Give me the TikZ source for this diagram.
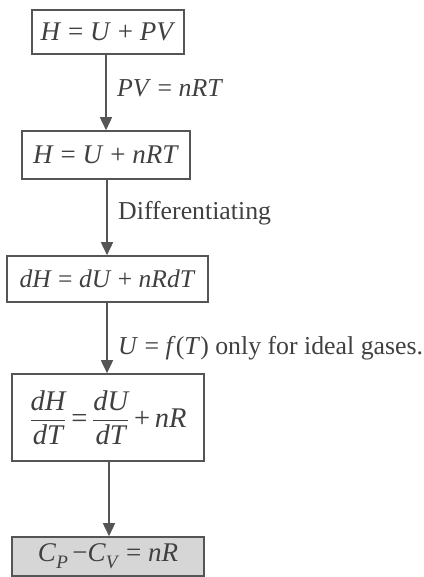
\documentclass[tikz,border=0pt]{standalone}
\usepackage{amsmath}
\usepackage{fontspec}
\setmainfont{Liberation Serif}
\usetikzlibrary{arrows.meta}
\definecolor{ink}{HTML}{404040}
\definecolor{edge}{HTML}{555555}
\definecolor{shade}{HTML}{D6D6D6}
\tikzset{
  eqbox/.style={draw=edge, line width=1.6pt, text=ink, inner sep=0pt, align=center, font=\fontsize{27}{32}\selectfont},
  arr/.style={draw=edge, line width=1.6pt, -{Triangle[length=13pt,width=12pt]}},
  lbl/.style={anchor=west, text=ink, inner sep=0pt, font=\fontsize{25.8}{30}\selectfont}
}
\begin{document}
\begin{tikzpicture}[x=1pt,y=-1pt]
\useasboundingbox (0,0) rectangle (423,577);
\node[eqbox, minimum width=152pt, minimum height=44pt] (b1) at (108,32) {\textit{H} = \textit{U} + \textit{PV}};
\node[eqbox, minimum width=168pt, minimum height=48pt] (b2) at (106,155) {\textit{H} = \textit{U} + \textit{nRT}};
\node[eqbox, font=\fontsize{25.5}{30}\selectfont, minimum width=201pt, minimum height=46pt] (b3) at (107.5,279) {\textit{dH} = \textit{dU} + \textit{nRdT}};
\node[eqbox, font=\fontsize{28.5}{34}\selectfont, minimum width=192pt, minimum height=87pt] (b4) at (108,417.5) {$\dfrac{\textit{dH}}{\textit{dT}}$\,=\,$\dfrac{\textit{dU}}{\textit{dT}}$\,+\,\textit{nR}};
\node[eqbox, fill=shade, minimum width=192pt, minimum height=39pt] (b5) at (108,556.5) {\textit{C}\raisebox{-0.25em}{\fontsize{19}{22}\selectfont\textit{P}}\,−\textit{C}\raisebox{-0.25em}{\fontsize{19}{22}\selectfont\textit{V}} = \textit{nR}};
\draw[arr] (b1.south -| 106,0) -- (b2.north -| 106,0);
\draw[arr] (b2.south -| 107,0) -- (b3.north -| 107,0);
\draw[arr] (b3.south -| 107,0) -- (b4.north -| 107,0);
\draw[arr] (b4.south -| 109,0) -- (b5.north -| 109,0);
\node[lbl] (l1) at (117,88) {\textit{PV} = \textit{nRT}};
\node[lbl] (l2) at (118,213) {Differentiating};
\node[lbl] (l3) at (118,348) {\textit{U} = \textit{f}(\textit{T}) only for ideal gases.};
\end{tikzpicture}
\end{document}
